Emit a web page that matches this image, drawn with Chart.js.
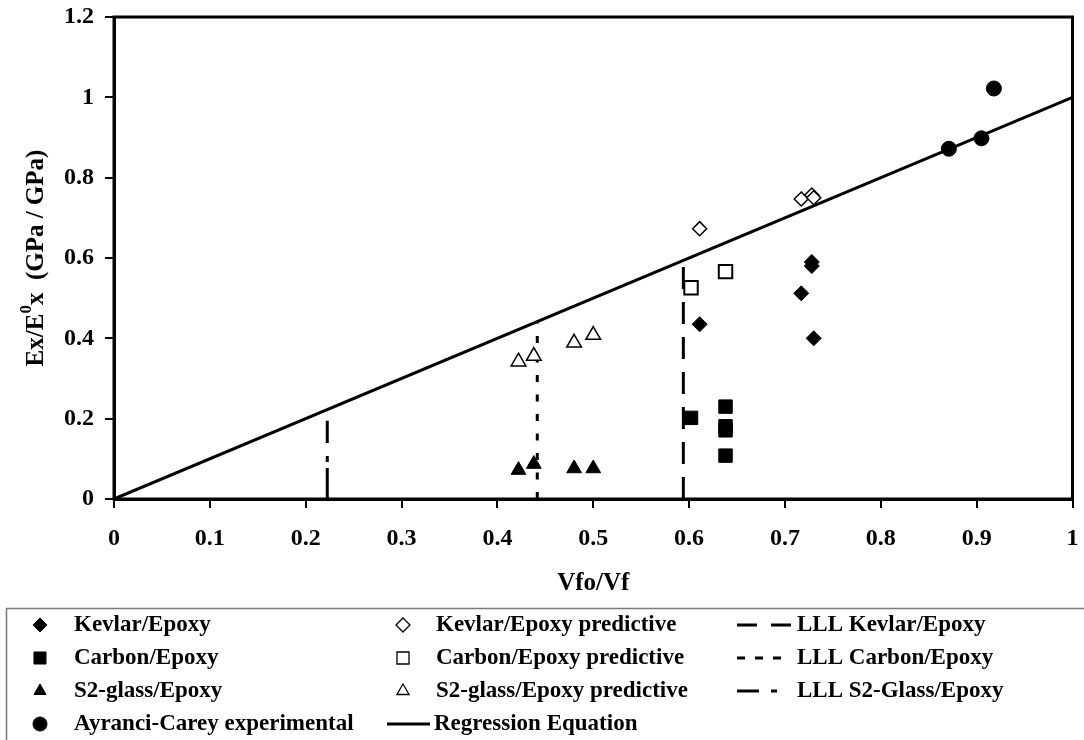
<!DOCTYPE html>
<html>
<head>
<meta charset="utf-8">
<script src="https://cdn.jsdelivr.net/npm/chart.js@4.4.1/dist/chart.umd.min.js"></script>
<style>
  html, body { margin: 0; padding: 0; background: #ffffff; }
  #wrap { width: 1084px; height: 740px; position: relative; }
</style>
</head>
<body>
<div id="wrap"><canvas id="c" width="1084" height="740"></canvas></div>
<script>
// Modulus ratio Ex/E0x versus fibre volume ratio Vfo/Vf
const SERIF = '"Liberation Serif", "Times New Roman", serif';

// Tick labels
const xTickLabels = ['0', '0.1', '0.2', '0.3', '0.4', '0.5', '0.6', '0.7', '0.8', '0.9', '1'];
const yTickLabels = ['0', '0.2', '0.4', '0.6', '0.8', '1', '1.2'];

// Measured values
const kevlarX = [0.611, 0.717, 0.728, 0.728, 0.730];
const kevlarY = [0.435, 0.512, 0.580, 0.590, 0.400];
const carbonX = [0.602, 0.638, 0.638, 0.638, 0.638];
const carbonY = [0.202, 0.230, 0.181, 0.171, 0.108];
const glassX  = [0.422, 0.438, 0.480, 0.500];
const glassY  = [0.072, 0.087, 0.076, 0.076];
const ayranciX = [0.871, 0.905, 0.918];
const ayranciY = [0.872, 0.898, 1.022];

// Predicted values
const kevlarPredX = [0.611, 0.717, 0.728, 0.730];
const kevlarPredY = [0.673, 0.747, 0.757, 0.750];
const carbonPredX = [0.602, 0.638];
const carbonPredY = [0.526, 0.566];
const glassPredX  = [0.422, 0.438, 0.480, 0.500];
const glassPredY  = [0.342, 0.356, 0.389, 0.408];

// Regression line end points
const regressionX = [0, 1];
const regressionY = [0, 1];

// Lower limit lines (x position, top of line)
const lllKevlar = [0.594, 0.594];
const lllCarbon = [0.4416, 0.4416];
const lllGlass  = [0.2225, 0.195];

const pts = (xs, ys) => xs.map((x, i) => ({ x: x, y: ys[i] }));
const vline = (v) => [{ x: v[0], y: 0 }, { x: v[0], y: v[1] }];

const datasets = [
  { label: 'Kevlar/Epoxy', data: pts(kevlarX, kevlarY), pointStyle: 'rectRot', pointRadius: 7.5,
    backgroundColor: '#000', borderColor: '#000', borderWidth: 1, showLine: false, legendCell: [0, 0] },
  { label: 'Carbon/Epoxy', data: pts(carbonX, carbonY), pointStyle: 'rect', pointRadius: 9.5,
    backgroundColor: '#000', borderColor: '#000', borderWidth: 1, showLine: false, legendCell: [1, 0] },
  { label: 'S2-glass/Epoxy', data: pts(glassX, glassY), pointStyle: 'triangle', pointRadius: 8.5,
    backgroundColor: '#000', borderColor: '#000', borderWidth: 1, showLine: false, legendCell: [2, 0] },
  { label: 'Ayranci-Carey experimental', data: pts(ayranciX, ayranciY), pointStyle: 'circle', pointRadius: 7.5,
    backgroundColor: '#000', borderColor: '#000', borderWidth: 1, showLine: false, legendCell: [3, 0] },
  { label: 'Kevlar/Epoxy predictive', data: pts(kevlarPredX, kevlarPredY), pointStyle: 'rectRot', pointRadius: 7,
    backgroundColor: '#fff', borderColor: '#000', borderWidth: 1.5, showLine: false, legendCell: [0, 1] },
  { label: 'Carbon/Epoxy predictive', data: pts(carbonPredX, carbonPredY), pointStyle: 'rect', pointRadius: 9.5,
    backgroundColor: '#fff', borderColor: '#000', borderWidth: 2, showLine: false, legendCell: [1, 1] },
  { label: 'S2-glass/Epoxy predictive', data: pts(glassPredX, glassPredY), pointStyle: 'triangle', pointRadius: 8.5,
    backgroundColor: '#fff', borderColor: '#000', borderWidth: 1.5, showLine: false, legendCell: [2, 1] },
  { label: 'Regression Equation', data: pts(regressionX, regressionY), showLine: true, pointRadius: 0,
    borderColor: '#000', borderWidth: 3, fill: false, legendCell: [3, 1], legendLine: [387, 430] },
  { label: 'LLL Kevlar/Epoxy', data: vline(lllKevlar), showLine: true, pointRadius: 0,
    borderColor: '#000', borderWidth: 3, borderDash: [22, 13], fill: false, legendCell: [0, 2],
    legendDash: [20, 14], legendLine: [737, 791] },
  { label: 'LLL Carbon/Epoxy', data: vline(lllCarbon), showLine: true, pointRadius: 0,
    borderColor: '#000', borderWidth: 3, borderDash: [7, 12.5], fill: false, legendCell: [1, 2],
    legendDash: [8, 10], legendLine: [737, 791] },
  { label: 'LLL S2-Glass/Epoxy', data: vline(lllGlass), showLine: true, pointRadius: 0,
    borderColor: '#000', borderWidth: 3, borderDash: [31, 6, 6, 13], fill: false, legendCell: [2, 2],
    legendDash: [22, 12, 6, 100], legendLine: [737, 791] }
];

// Frame around the plot area
const frame = {
  id: 'frame',
  afterDatasetsDraw(chart) {
    const { ctx, chartArea: a } = chart;
    ctx.save();
    ctx.strokeStyle = '#000';
    ctx.lineWidth = 3;
    ctx.strokeRect(a.left, a.top, a.right - a.left, a.bottom - a.top);
    ctx.restore();
  }
};

// Rotated y-axis title with a superscript
const yTitle = {
  id: 'yTitle',
  afterDraw(chart) {
    const ctx = chart.ctx;
    const parts = [
      { t: 'Ex/E', size: 25, dy: 0 },
      { t: '0', size: 17, dy: -10 },
      { t: 'x  (GPa / GPa)', size: 25, dy: 0 }
    ];
    ctx.save();
    ctx.fillStyle = '#000';
    ctx.textBaseline = 'middle';
    ctx.textAlign = 'left';
    let total = 0;
    parts.forEach(p => { ctx.font = 'bold ' + p.size + 'px ' + SERIF; p.w = ctx.measureText(p.t).width; total += p.w; });
    const cy = (chart.chartArea.top + chart.chartArea.bottom) / 2;
    ctx.translate(37, cy);
    ctx.rotate(-Math.PI / 2);
    let x = -total / 2;
    parts.forEach(p => {
      ctx.font = 'bold ' + p.size + 'px ' + SERIF;
      ctx.fillText(p.t, x, p.dy);
      x += p.w;
    });
    ctx.restore();
  }
};

// Three-column legend in a box under the axis
const gridLegend = {
  id: 'gridLegend',
  afterDraw(chart) {
    const ctx = chart.ctx;
    const H = Chart.helpers;
    const top = 608;
    const rowY = [625, 658, 691, 724];
    const markX = [40, 403];
    const textX = [74, 436, 797];
    ctx.save();
    ctx.strokeStyle = '#7a7a7a';
    ctx.lineWidth = 1.5;
    ctx.strokeRect(6.5, top + 0.5, 1100, 200);
    ctx.font = 'bold 23px ' + SERIF;
    ctx.textBaseline = 'middle';
    ctx.textAlign = 'left';
    chart.data.datasets.forEach(ds => {
      const [r, c] = ds.legendCell;
      const y = rowY[r];
      ctx.fillStyle = '#000';
      ctx.strokeStyle = '#000';
      if (ds.showLine) {
        ctx.lineWidth = 3;
        ctx.setLineDash(ds.legendDash || []);
        ctx.beginPath();
        ctx.moveTo(ds.legendLine[0], y);
        ctx.lineTo(ds.legendLine[1], y);
        ctx.stroke();
        ctx.setLineDash([]);
        const tx = c === 2 ? textX[2] : ds.legendLine[1] + 4;
        ctx.fillText(ds.label, tx, y);
      } else {
        ctx.fillStyle = ds.backgroundColor;
        ctx.lineWidth = ds.backgroundColor === '#fff' ? 1.3 : 1;
        const rad = ds.pointStyle === 'rect' ? 8.5 : 7;
        H.drawPoint(ctx, { pointStyle: ds.pointStyle, radius: rad, borderWidth: ctx.lineWidth, rotation: 0 }, markX[c], y);
        ctx.fillStyle = '#000';
        ctx.fillText(ds.label, textX[c], y);
      }
    });
    ctx.restore();
  }
};

new Chart(document.getElementById('c'), {
  type: 'scatter',
  data: { datasets: datasets },
  options: {
    responsive: false,
    animation: false,
    events: [],
    devicePixelRatio: 1,
    layout: { padding: { top: 17, right: 7, bottom: 132, left: 0 } },
    plugins: { legend: { display: false }, tooltip: { enabled: false }, title: { display: false } },
    elements: { line: { tension: 0 } },
    scales: {
      x: {
        type: 'linear', min: 0, max: 1,
        afterFit(s) { s.height = 109; s.paddingLeft = 0; s.paddingRight = 0; },
        border: { display: true, color: '#000', width: 3 },
        grid: { drawOnChartArea: false, drawTicks: true, tickLength: 9, color: '#000', lineWidth: 2 },
        ticks: {
          stepSize: 0.1, padding: 16, color: '#000', maxRotation: 0, autoSkip: false,
          font: { family: SERIF, size: 24, weight: 'bold' },
          callback: (v, i) => xTickLabels[i]
        },
        title: { display: true, text: 'Vfo/Vf', color: '#000', padding: { top: 0, bottom: 9 },
          font: { family: SERIF, size: 25, weight: 'bold' } }
      },
      y: {
        type: 'linear', min: 0, max: 1.2,
        afterFit(s) { s.width = 114; s.paddingTop = 0; s.paddingBottom = 0; },
        border: { display: true, color: '#000', width: 3 },
        grid: { drawOnChartArea: false, drawTicks: true, tickLength: 9, color: '#000', lineWidth: 2 },
        ticks: {
          stepSize: 0.2, padding: 11, color: '#000',
          font: { family: SERIF, size: 24, weight: 'bold' },
          callback: (v, i) => yTickLabels[i]
        }
      }
    }
  },
  plugins: [frame, yTitle, gridLegend]
});
</script>
</body>
</html>
